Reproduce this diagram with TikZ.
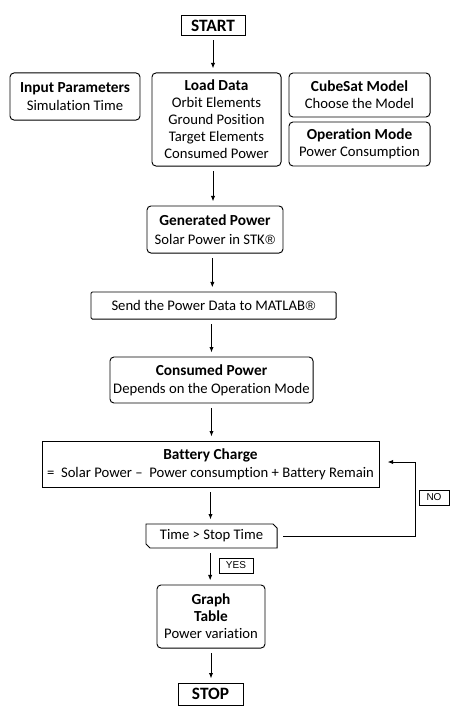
\documentclass[tikz,border=0pt]{standalone}
\usepackage{fontspec}
\setmainfont[Ligatures=NoCommon]{Carlito}
\newfontfamily\lblfont{Liberation Sans}
\usetikzlibrary{arrows.meta,calc}
\begin{document}
\begin{tikzpicture}[x=0.75pt,y=-0.75pt,
  every node/.style={inner sep=0pt,outer sep=0pt,align=center,font=\fontsize{11}{12.8}\selectfont},
  box/.style={draw,line width=0.7pt},
  rbox/.style={box,rounded corners=3pt},
  arr/.style={-{Latex[length=4pt,width=3.2pt]},line width=0.6pt},
  tag/.style={draw,line width=0.6pt,font=\lblfont\fontsize{7.5}{9}\selectfont}]
\useasboundingbox (0,0) rectangle (459,717);
\newcommand{\hd}[1]{{\fontsize{11.5}{12.8}\selectfont\bfseries #1}}
\newcommand{\ttl}[1]{{\fontsize{13}{14}\selectfont\bfseries #1}}
\newcommand{\regmk}{{\lblfont\fontsize{10}{12}\selectfont\kern0.5pt®}}
% nodes
\node[box,minimum width=48pt,minimum height=14.3pt] (start) at (213,25.5) {\ttl{START}};
\node[rbox,minimum width=97.5pt,minimum height=35.3pt] (input) at (75,96.5) {\hd{Input Parameters}\\[1pt]Simulation Time};
\node[rbox,minimum width=96.8pt,minimum height=69.8pt] (load) at (216.5,119.5) {\hd{Load Data}\\Orbit Elements\\Ground Position\\Target Elements\\Consumed Power};
\node[rbox,minimum width=105.8pt,minimum height=33pt] (cube) at (359.5,95) {\hd{CubeSat Model}\\Choose the Model};
\node[rbox,minimum width=105.8pt,minimum height=33pt] (opmode) at (359.5,144) {\hd{Operation Mode}\\Power Consumption};
\node[rbox,minimum width=102pt,minimum height=35.3pt] (gen) at (215,229.5) {\hd{Generated Power}\\[1pt]Solar Power in STK\regmk};
\node[box,rounded corners=1pt,minimum width=183.8pt,minimum height=20.3pt] (send) at (213.5,305.5) {Send the Power Data to MATLAB\regmk};
\node[rbox,minimum width=152.3pt,minimum height=34.5pt] (cons) at (211.5,380) {\hd{Consumed Power}\\[1pt]Depends on the Operation Mode};
\node[box,minimum width=252.8pt,minimum height=34.5pt] (batt) at (210.5,464) {\hd{Battery Charge}\\[1pt]=\ \ Solar Power \textendash\ \ Power consumption + Battery Remain};
\node[minimum width=98.3pt,minimum height=18pt] (time) at (211.5,536) {Time {\textgreater} Stop Time};
\draw[line width=0.7pt] (time.north west) -- ([xshift=-3pt]time.north east) -- ([yshift=-3pt]time.north east) -- (time.south east) -- ([xshift=3pt]time.south west) -- ([yshift=3pt]time.south west) -- cycle;
\node[rbox,minimum width=81pt,minimum height=47.3pt] (graph) at (211,616.5) {\hd{Graph}\\\hd{Table}\\Power variation};
\node[box,minimum width=48.8pt,minimum height=16.5pt] (stop) at (210.5,694) {\ttl{STOP}};
\node[tag,minimum width=22.5pt,minimum height=11.3pt] (no) at (434,497.5) {NO};
\node[tag,minimum width=25.5pt,minimum height=11.3pt] (yes) at (236,565.5) {YES};
% connectors
\tikzset{gap/.style={shorten <=4pt,shorten >=3.5pt}}
\draw[arr,gap] (start.south) -- (start.south |- load.north);
\draw[arr,gap] (start.south |- load.south) -- (start.south |- gen.north);
\draw[arr,gap] ([xshift=-2pt]gen.south) -- ([xshift=-2pt]gen.south |- send.north);
\draw[arr,gap] ([xshift=-1.5pt]send.south) -- ([xshift=-1.5pt]send.south |- cons.north);
\draw[arr,gap] (cons.south) -- (cons.south |- batt.north);
\draw[arr,gap] (batt.south) -- (batt.south |- time.north);
\draw[arr,gap] ([xshift=-1pt]time.south) -- ([xshift=-1pt]time.south |- graph.north);
\draw[arr,gap] (graph.south) -- (graph.south |- stop.north);
\coordinate (loop) at (415,462);
\draw[arr,shorten <=4.5pt,shorten >=6.5pt] (time.east) -| (loop) -- (batt.east |- loop);
\end{tikzpicture}
\end{document}
